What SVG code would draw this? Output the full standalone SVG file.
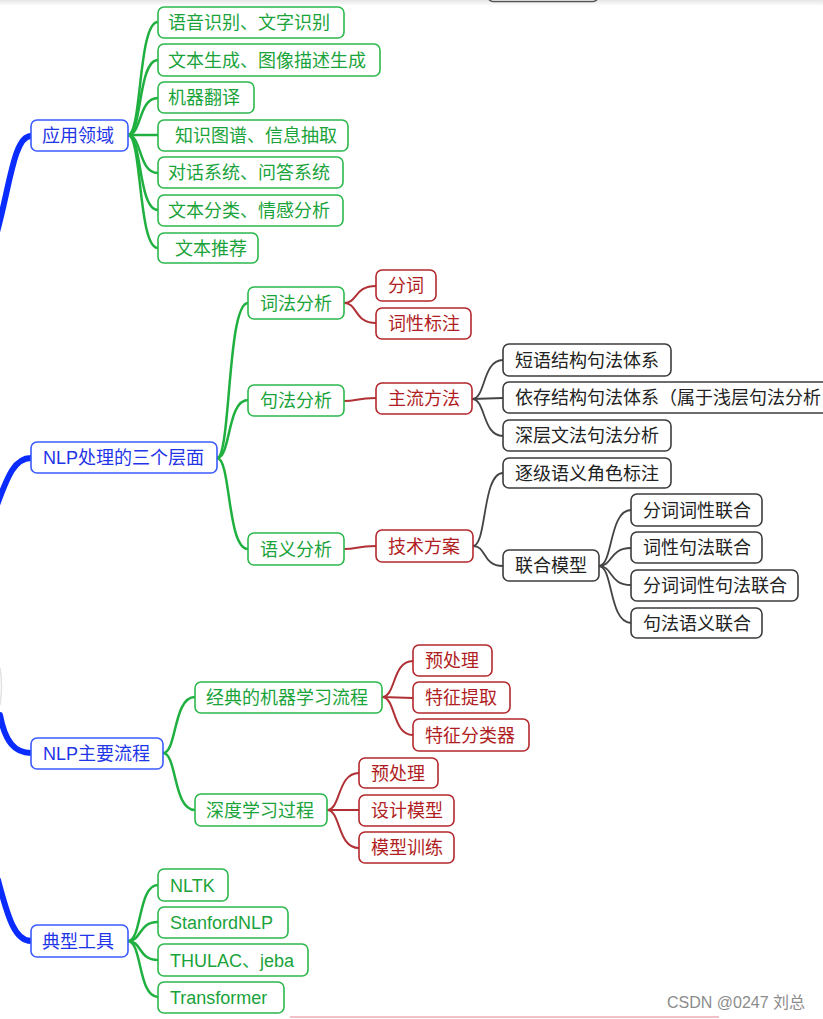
<svg xmlns="http://www.w3.org/2000/svg" width="823" height="1019" viewBox="0 0 823 1019">
<defs>
<linearGradient id="topshade" x1="0" y1="0" x2="0" y2="1">
<stop offset="0" stop-color="#e6e6e6"/>
<stop offset="1" stop-color="#ffffff"/>
</linearGradient>
<style>
text{font-family:"Liberation Sans","Noto Sans CJK SC",sans-serif;font-size:18px}
rect{fill:#fff;stroke-width:1.6}
.bl rect{stroke:#3b5bff}
.bl text{fill:#1f35e8}
.gr rect{stroke:#2db84d}
.gr text{fill:#1aa33a}
.rd rect{stroke:#b3282d}
.rd text{fill:#b01e23}
.dk rect{stroke:#3c3c3c}
.dk text{fill:#222}
.cb{fill:none;stroke:#0a2cff;stroke-width:6;stroke-linecap:round}
.cg{fill:none;stroke:#1fb040;stroke-width:2.5}
.cr{fill:none;stroke:#b03035;stroke-width:2}
.ck{fill:none;stroke:#444;stroke-width:1.8}
</style>
</defs>
<rect x="0" y="0" width="823" height="1019" style="fill:#fff;stroke:none"/>
<rect x="0" y="0" width="823" height="6" style="fill:url(#topshade);stroke:none"/>
<rect x="488" y="-30" width="110" height="31.5" rx="5" style="fill:#fff;stroke:#555;stroke-width:1.6"/>
<path d="M0,668 Q3,686 0,705" style="fill:none;stroke:#e2e2e2;stroke-width:1.5"/>
<line x1="290" y1="1017" x2="719" y2="1017" style="stroke:#f4c0c8;stroke-width:2"/>

<g id="connectors">
<path class="cb" d="M-3,232 C10,185 14,136 31,136"/>
<path class="cb" d="M-3,505 C8,475 15,458 31,458"/>
<path class="cb" d="M0,715 C5,742 15,753 31,753"/>
<path class="cb" d="M-2,880 C8,918 15,941 31,941"/>

<path class="cg" d="M128,135 C142,135 138,22 158,22"/>
<path class="cg" d="M128,135 C142,135 138,60 158,60"/>
<path class="cg" d="M128,135 C142,135 138,98 158,98"/>
<path class="cg" d="M128,135 L158,135"/>
<path class="cg" d="M128,135 C142,135 138,173 158,173"/>
<path class="cg" d="M128,135 C142,135 138,210 158,210"/>
<path class="cg" d="M128,135 C142,135 138,248 158,248"/>

<path class="cg" d="M217,458 C231,458 227,303 248,303"/>
<path class="cg" d="M217,458 C231,458 227,400 248,400"/>
<path class="cg" d="M217,458 C231,458 227,549 248,549"/>

<path class="cr" d="M344,303 C358,303 354,286 376,286"/>
<path class="cr" d="M344,303 C358,303 354,323 376,323"/>
<path class="cr" d="M344,401 C358,401 356,398 376,398"/>
<path class="cr" d="M344,549 C358,549 356,546 376,546"/>

<path class="ck" d="M472,399 C486,399 482,360 503,360"/>
<path class="ck" d="M472,399 L503,398"/>
<path class="ck" d="M472,399 C486,399 482,436 503,436"/>
<path class="ck" d="M473,546 C487,546 482,473 503,473"/>
<path class="ck" d="M473,546 C487,546 482,566 503,566"/>
<path class="ck" d="M599,566 C613,566 609,510 631,510"/>
<path class="ck" d="M599,566 C613,566 609,548 631,548"/>
<path class="ck" d="M599,566 C613,566 609,585 631,585"/>
<path class="ck" d="M599,566 C613,566 609,623 631,623"/>

<path class="cg" d="M163,753 C177,753 173,697 195,697"/>
<path class="cg" d="M163,753 C177,753 173,810 195,810"/>
<path class="cr" d="M382,697 C396,697 392,661 413,661"/>
<path class="cr" d="M382,697 L413,698"/>
<path class="cr" d="M382,697 C396,697 392,735 413,735"/>
<path class="cr" d="M327,810 C341,810 337,773 359,773"/>
<path class="cr" d="M327,810 L359,810"/>
<path class="cr" d="M327,810 C341,810 337,848 359,848"/>

<path class="cg" d="M128,941 C142,941 138,885 158,885"/>
<path class="cg" d="M128,941 C142,941 138,922 158,922"/>
<path class="cg" d="M128,941 C142,941 138,960 158,960"/>
<path class="cg" d="M128,941 C142,941 138,997 158,997"/>
</g>

<g id="n-app" class="bl"><rect x="31" y="120" width="97" height="31" rx="6"/><text x="42" y="142">应用领域</text></g>
<g id="n-levels" class="bl"><rect x="31" y="442" width="186" height="31" rx="6"/><text x="43" y="464">NLP处理的三个层面</text></g>
<g id="n-flow" class="bl"><rect x="31" y="738" width="132" height="31" rx="6"/><text x="43" y="760">NLP主要流程</text></g>
<g id="n-tools" class="bl"><rect x="31" y="925" width="97" height="32" rx="6"/><text x="42" y="947.5">典型工具</text></g>

<g id="n-a1" class="gr"><rect x="158" y="7" width="186" height="31" rx="6"/><text x="168" y="29">语音识别、文字识别</text></g>
<g id="n-a2" class="gr"><rect x="158" y="44" width="222" height="32" rx="6"/><text x="168" y="66.5">文本生成、图像描述生成</text></g>
<g id="n-a3" class="gr"><rect x="158" y="82" width="96" height="31" rx="6"/><text x="168" y="104">机器翻译</text></g>
<g id="n-a4" class="gr"><rect x="158" y="120" width="190" height="31" rx="6"/><text x="175" y="142">知识图谱、信息抽取</text></g>
<g id="n-a5" class="gr"><rect x="158" y="157" width="185" height="31" rx="6"/><text x="168" y="179">对话系统、问答系统</text></g>
<g id="n-a6" class="gr"><rect x="158" y="195" width="185" height="31" rx="6"/><text x="168" y="217">文本分类、情感分析</text></g>
<g id="n-a7" class="gr"><rect x="158" y="233" width="100" height="30" rx="6"/><text x="175" y="254.5">文本推荐</text></g>

<g id="n-lex" class="gr"><rect x="248" y="287" width="96" height="32" rx="6"/><text x="260" y="309.5">词法分析</text></g>
<g id="n-syn" class="gr"><rect x="248" y="385" width="96" height="31" rx="6"/><text x="260" y="407">句法分析</text></g>
<g id="n-sem" class="gr"><rect x="248" y="533" width="96" height="32" rx="6"/><text x="260" y="555.5">语义分析</text></g>

<g id="n-seg" class="rd"><rect x="376" y="270" width="60" height="31" rx="6"/><text x="388" y="292">分词</text></g>
<g id="n-pos" class="rd"><rect x="376" y="308" width="95" height="31" rx="6"/><text x="388" y="330">词性标注</text></g>
<g id="n-main" class="rd"><rect x="376" y="383" width="96" height="31" rx="6"/><text x="388" y="405">主流方法</text></g>
<g id="n-tech" class="rd"><rect x="376" y="530" width="97" height="32" rx="6"/><text x="388" y="552.5">技术方案</text></g>

<g id="n-phrase" class="dk"><rect x="503" y="344" width="168" height="32" rx="6"/><text x="515" y="366.5">短语结构句法体系</text></g>
<g id="n-dep" class="dk"><rect x="503" y="382" width="400" height="31" rx="6"/><text x="515" y="404">依存结构句法体系（属于浅层句法分析</text></g>
<g id="n-deep" class="dk"><rect x="503" y="420" width="168" height="31" rx="6"/><text x="515" y="442">深层文法句法分析</text></g>
<g id="n-srl" class="dk"><rect x="503" y="458" width="168" height="30" rx="6"/><text x="515" y="479.5">逐级语义角色标注</text></g>
<g id="n-joint" class="dk"><rect x="503" y="550" width="96" height="31" rx="6"/><text x="515" y="572">联合模型</text></g>
<g id="n-j1" class="dk"><rect x="631" y="494" width="131" height="32" rx="6"/><text x="643" y="516.5">分词词性联合</text></g>
<g id="n-j2" class="dk"><rect x="631" y="532" width="131" height="31" rx="6"/><text x="643" y="554">词性句法联合</text></g>
<g id="n-j3" class="dk"><rect x="631" y="570" width="167" height="31" rx="6"/><text x="643" y="592">分词词性句法联合</text></g>
<g id="n-j4" class="dk"><rect x="631" y="608" width="131" height="30" rx="6"/><text x="643" y="629.5">句法语义联合</text></g>

<g id="n-ml" class="gr"><rect x="195" y="682" width="187" height="31" rx="6"/><text x="206" y="704">经典的机器学习流程</text></g>
<g id="n-dl" class="gr"><rect x="195" y="794" width="132" height="32" rx="6"/><text x="206" y="816.5">深度学习过程</text></g>

<g id="n-ml1" class="rd"><rect x="413" y="645" width="79" height="31" rx="6"/><text x="425" y="667">预处理</text></g>
<g id="n-ml2" class="rd"><rect x="413" y="682" width="97" height="31" rx="6"/><text x="425" y="704">特征提取</text></g>
<g id="n-ml3" class="rd"><rect x="413" y="719" width="116" height="32" rx="6"/><text x="425" y="741.5">特征分类器</text></g>
<g id="n-dl1" class="rd"><rect x="359" y="758" width="79" height="30" rx="6"/><text x="371" y="779.5">预处理</text></g>
<g id="n-dl2" class="rd"><rect x="359" y="795" width="95" height="31" rx="6"/><text x="371" y="817">设计模型</text></g>
<g id="n-dl3" class="rd"><rect x="359" y="832" width="95" height="31" rx="6"/><text x="371" y="854">模型训练</text></g>

<g id="n-t1" class="gr"><rect x="158" y="869" width="70" height="32" rx="6"/><text x="170" y="891.5">NLTK</text></g>
<g id="n-t2" class="gr"><rect x="158" y="907" width="130" height="31" rx="6"/><text x="170" y="929">StanfordNLP</text></g>
<g id="n-t3" class="gr"><rect x="158" y="944" width="150" height="32" rx="6"/><text x="170" y="966.5">THULAC、jeba</text></g>
<g id="n-t4" class="gr"><rect x="158" y="982" width="126" height="31" rx="6"/><text x="170" y="1004">Transformer</text></g>

<text x="667" y="1008" style="font-size:16px;fill:#8c8c8c">CSDN @0247 刘总</text>
</svg>
